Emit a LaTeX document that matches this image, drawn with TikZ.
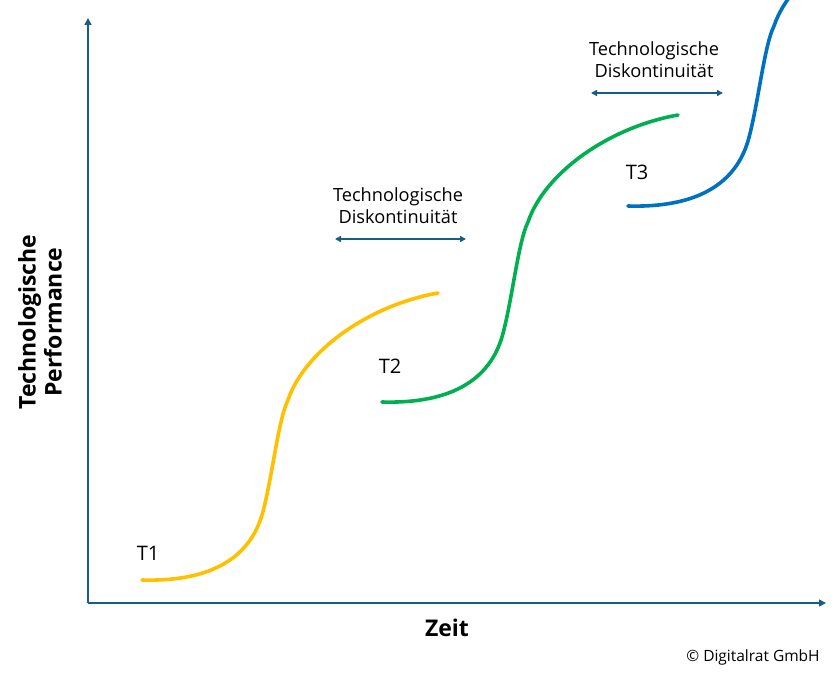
\documentclass[tikz,border=0pt]{standalone}
\usepackage{fontspec}
\setmainfont{Open Sans}
\usetikzlibrary{arrows.meta}
\definecolor{axisblue}{RGB}{21,96,130}
\definecolor{tyellow}{RGB}{255,192,0}
\definecolor{tgreen}{RGB}{0,176,80}
\definecolor{tblue}{RGB}{0,112,192}
\tikzset{
  axis/.style={draw=axisblue, line width=1.5pt, -{Triangle[length=7pt,width=7pt]}},
  gap/.style={draw=axisblue, line width=1.5pt, {Triangle[length=6pt,width=6pt]}-{Triangle[length=6pt,width=6pt]}},
  scurve/.style={line width=3.6pt, line cap=round},
  lbl/.style={font=\fontsize{20}{24}\selectfont, inner sep=0pt},
  note/.style={font=\fontsize{18.2}{22}\selectfont, align=center, inner sep=0pt},
  axlbl/.style={font=\fontsize{23}{26}\selectfont\bfseries, align=center, inner sep=0pt}
}
\newcommand{\scurvepath}{(0,0) .. controls (73,2) and (108,-25) .. (120,-65) .. controls (130,-100) and (136,-160) .. (146,-180) .. controls (163,-230) and (228,-275) .. (296,-287)}
\begin{document}
\begin{tikzpicture}[x=1pt,y=-1pt]
\useasboundingbox (0,0) rectangle (840,674);
\begin{scope}
\clip (0,0) rectangle (840,674);
% axes
\coordinate (O) at (88,603);
\coordinate (Ytop) at (88,18);
\coordinate (Xend) at (826,603);
\draw[axis] (O) -- (Ytop);
\draw[axis] (O) -- (Xend);
% curves
\draw[scurve, draw=tyellow, shift={(142,580)}] \scurvepath;
\draw[scurve, draw=tgreen, shift={(382,402)}] \scurvepath;
\draw[scurve, draw=tblue, shift={(628,206)}] \scurvepath;
\end{scope}
% labels
\node[lbl] (t1) at (148,553) {T1};
\node[lbl] (t2) at (390,366) {T2};
\node[lbl] (t3) at (637,172) {T3};
% discontinuities
\node[note] (d1) at (398,206) {Technologische\\Diskontinuität};
\coordinate (d1a) at (335,239);
\coordinate (d1b) at (466,239);
\draw[gap] (d1a) -- (d1b);
\node[note] (d2) at (654,60) {Technologische\\Diskontinuität};
\coordinate (d2a) at (591,93);
\coordinate (d2b) at (723,93);
\draw[gap] (d2a) -- (d2b);
% axis labels
\node[axlbl] (zeit) at (447,628) {Zeit};
\node[axlbl, rotate=90] (perf) at (40,322) {Technologische\\Performance};
\node[font=\fontsize{15.5}{18}\selectfont, inner sep=0pt] (copy) at (753,657) {© Digitalrat GmbH};
\end{tikzpicture}
\end{document}
